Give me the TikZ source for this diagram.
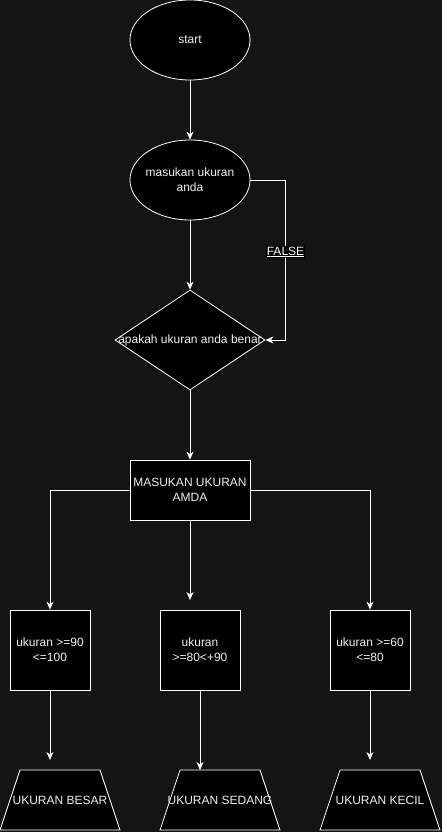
\documentclass[tikz,border=0pt]{standalone}
\usepackage{fontspec}
\setmainfont{Liberation Sans}
\usetikzlibrary{shapes.geometric,arrows.meta}
\definecolor{bg}{HTML}{141414}
\definecolor{txt}{HTML}{F0F0F0}
\begin{document}
\begin{tikzpicture}[x=1pt,y=-1pt,
  font=\fontsize{12}{15}\selectfont,
  blk/.style={draw=white, fill=black, line width=0.8pt, text=txt, align=center, inner sep=0pt},
  trap/.style={draw=white, fill=black, line width=0.8pt},
  conn/.style={draw=white, line width=0.8pt, -{Stealth[length=8pt,width=7pt,inset=2.5pt]}},
  lbl/.style={text=txt, align=center}]
\fill[bg] (0,0) rectangle (442,832);
\useasboundingbox (0,0) rectangle (442,832);

\node[blk, ellipse, minimum width=120, minimum height=80] (start) at (190,40) {};
\node[lbl] at (start) {start};
\node[blk, ellipse, minimum width=120, minimum height=80] (inp) at (190,180) {};
\node[lbl] at (inp) {masukan ukuran\\anda};
\node[blk, diamond, minimum width=150, minimum height=100] (dec) at (190,340) {};
\node[lbl] at (dec) {apakah ukuran anda benar};
\node[blk, rectangle, minimum width=120, minimum height=60] (proc) at (190,490) {MASUKAN UKURAN\\AMDA};

\node[blk, rectangle, minimum width=80, minimum height=80] (b1) at (50,650) {ukuran >=90\\<=100};
\node[blk, rectangle, minimum width=80, minimum height=80] (b2) at (200,650) {ukuran\\>=80<+90};
\node[blk, rectangle, minimum width=80, minimum height=80] (b3) at (370,650) {ukuran >=60\\<=80};

\foreach \n/\cx in {t1/60, t2/220, t3/380} {
  \draw[trap] (\cx-60,830) -- (\cx-40,770) -- (\cx+40,770) -- (\cx+60,830) -- cycle;
  \coordinate (\n) at (\cx,800);
  \coordinate (\n-top) at (\cx,770);
}
\node[lbl] at (t1) {UKURAN BESAR};
\node[lbl] at (t2) {UKURAN SEDANG};
\node[lbl] at (t3) {UKURAN KECIL};

\coordinate (f1) at (285.5,180);
\coordinate (f2) at (285.5,340);
\coordinate (m1) at (190,600);
\coordinate (e1) at (50,760);
\coordinate (e3) at (370,760);

\draw[conn] (start) -- (inp);
\draw[conn] (inp) -- (dec);
\draw[conn] (inp.east) -- (f1) -- node[pos=0.45, fill=black, text=white, inner sep=1pt] {\underline{FALSE}} (f2) -- (dec.east);
\draw[conn] (dec) -- (proc);
\draw[conn] (proc.west) -| (b1.north);
\draw[conn] (proc.south) -- (m1);
\draw[conn] (proc.east) -| (b3.north);
\draw[conn] (b1.south) -- (e1);
\draw[conn] (b2.south) -- (b2.south |- t2-top);
\draw[conn] (b3.south) -- (e3);
\end{tikzpicture}
\end{document}
